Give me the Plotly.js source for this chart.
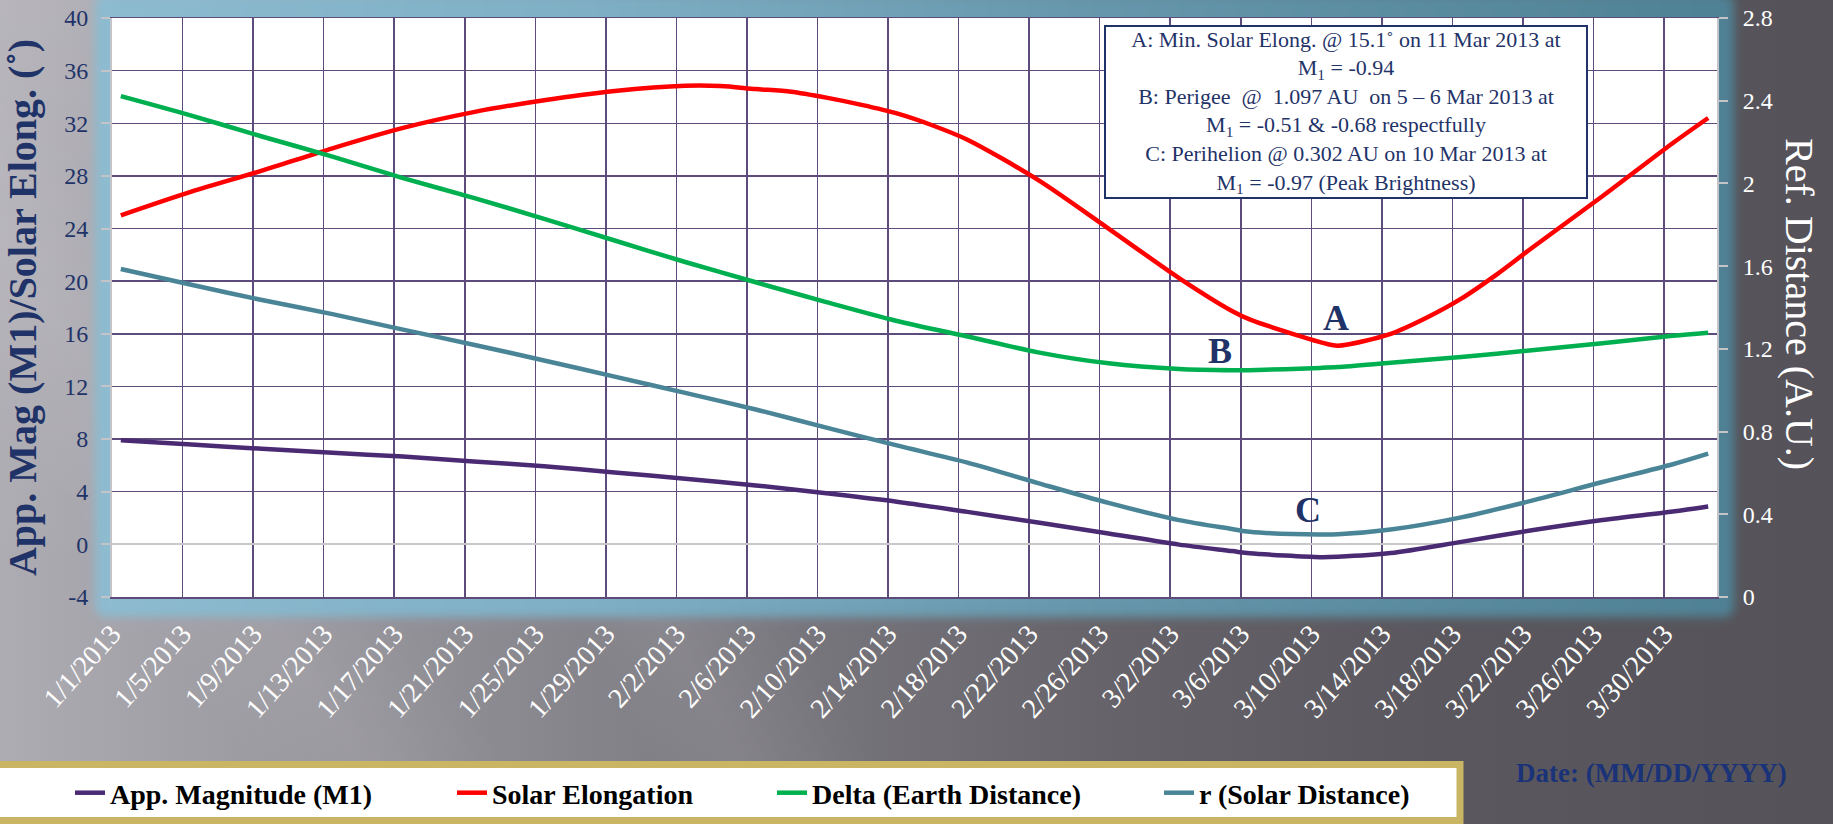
<!DOCTYPE html>
<html>
<head>
<meta charset="utf-8">
<script src="https://cdn.plot.ly/plotly-3.0.1.min.js"></script>
<style>
  html, body { margin: 0; padding: 0; width: 1833px; height: 824px; overflow: hidden; }
  body {
    position: relative;
    background:
      linear-gradient(62deg, rgba(255,255,255,0) 30%, rgba(255,255,255,0.07) 34%, rgba(255,255,255,0) 40%),
      linear-gradient(55deg, rgba(255,255,255,0) 12%, rgba(255,255,255,0.06) 17%, rgba(255,255,255,0) 23%),
      radial-gradient(ellipse 45% 70% at 0% 0%, rgba(255,255,255,0.12), rgba(255,255,255,0) 100%),
      linear-gradient(90deg, #aeacb3 0%, #98969d 18%, #7c7a81 40%, #66646a 60%, #5a585e 78%, #555359 100%);
  }
  #glow {
    position: absolute;
    border-radius: 10px;
    background: linear-gradient(90deg, #8dbbd0 0%, #7eafc5 30%, #6697ac 60%, #4f8194 100%);
    filter: blur(5px);
  }
  #chart { position: absolute; left: 0; top: 0; width: 1833px; height: 824px; }
</style>
</head>
<body>
<div id="glow"></div>
<div id="chart"></div>
<script>
// Comet ephemeris, Jan - Apr 2013 (daily values sampled on the dates below)
const dates = [
  '2013-01-01','2013-01-05','2013-01-09','2013-01-13','2013-01-17','2013-01-21',
  '2013-01-25','2013-01-29','2013-02-02','2013-02-06','2013-02-10','2013-02-14',
  '2013-02-18','2013-02-22','2013-02-26','2013-03-02','2013-03-05','2013-03-06',
  '2013-03-10','2013-03-11','2013-03-14','2013-03-18','2013-03-22','2013-03-26',
  '2013-03-30','2013-04-01'
];

// Apparent magnitude M1
const magnitude = [
  7.92, 7.58, 7.26, 6.96, 6.67, 6.30,
  5.94, 5.46, 4.99, 4.48, 3.88, 3.24,
  2.47, 1.66, 0.83, -0.02, -0.51, -0.68,
  -0.97, -0.94, -0.66, 0.19, 1.07, 1.85,
  2.50, 2.88
];

// Earth distance (Delta, AU)
const delta = [
  2.422, 2.328, 2.227, 2.130, 2.026, 1.930,
  1.829, 1.724, 1.620, 1.522, 1.426, 1.335,
  1.260, 1.183, 1.130, 1.103, 1.097, 1.097,
  1.108, 1.112, 1.133, 1.161, 1.193, 1.227,
  1.263, 1.278
];

// Solar distance (r, AU)
const solarDist = [
  1.586, 1.510, 1.436, 1.368, 1.293, 1.220,
  1.144, 1.066, 0.987, 0.907, 0.819, 0.733,
  0.650, 0.551, 0.455, 0.372, 0.329, 0.315,
  0.302, 0.303, 0.326, 0.385, 0.466, 0.556,
  0.642, 0.693
];

// Solar elongation (degrees) has its own sampling
const elongDates = [
  '2013-01-01','2013-01-05','2013-01-09','2013-01-13','2013-01-17','2013-01-21',
  '2013-01-25','2013-01-29','2013-02-02','2013-02-04','2013-02-06','2013-02-08',
  '2013-02-10','2013-02-12','2013-02-14','2013-02-16','2013-02-18','2013-02-22',
  '2013-02-26','2013-03-02','2013-03-05','2013-03-06','2013-03-10','2013-03-11',
  '2013-03-14','2013-03-16','2013-03-18','2013-03-20','2013-03-22','2013-03-26',
  '2013-03-30','2013-04-01'
];
const elongation = [
  25.0, 26.8, 28.4, 30.1, 31.65, 32.85,
  33.75, 34.45, 34.85, 34.83, 34.6, 34.4,
  33.95, 33.4, 32.75, 31.85, 30.75, 27.7,
  24.0, 20.24, 17.74, 17.1, 15.37, 15.1,
  16.0, 17.2, 18.67, 20.5, 22.52, 26.45,
  30.5, 32.4
];

// Left axis tick labels (plain hyphen for negatives)
const leftTickVals = [-4, 0, 4, 8, 12, 16, 20, 24, 28, 32, 36, 40];
const leftTickText = ['-4', '0', '4', '8', '12', '16', '20', '24', '28', '32', '36', '40'];

const seriesNames = ['App. Magnitude (M1)', 'Solar Elongation', 'Delta (Earth Distance)', 'r (Solar Distance)'];
const seriesColors = ['#4b2a74', '#ff0000', '#00b050', '#4a8597'];
const legendIds = ['legend', 'legend2', 'legend3', 'legend4'];

const NAVY = '#1f3368';
const GRID = '#5d4b7c';
const AXIS = '#c4c4c8';
const SERIF = 'Liberation Serif, Times New Roman, serif';
const DAY = 86400000;

const W = 1833, H = 824;
const M = { l: 112, r: 116, t: 18, b: 227 };
const plotW = W - M.l - M.r, plotH = H - M.t - M.b;

// paper coordinate helpers for decorations placed in the margins
const px = v => (v - M.l) / plotW;
const py = v => (M.t + plotH - v) / plotH;

function series(i, x, y, axis) {
  return {
    type: 'scatter', mode: 'lines', name: seriesNames[i], x: x, y: y, yaxis: axis,
    legend: legendIds[i],
    xperiod: DAY, xperiodalignment: 'middle',
    line: { color: seriesColors[i], width: 4.5, shape: 'spline', smoothing: 0.8 },
    hoverinfo: 'skip'
  };
}

const traces = [
  series(0, dates, magnitude, 'y'),
  series(1, elongDates, elongation, 'y'),
  series(2, dates, delta, 'y2'),
  series(3, dates, solarDist, 'y2')
];

const noteText =
  'A: Min. Solar Elong. @ 15.1˚ on 11 Mar 2013 at<br>' +
  'M<sub>1</sub> = -0.94<br>' +
  'B: Perigee \u00a0@ \u00a01.097 AU \u00a0on 5 – 6 Mar 2013 at<br>' +
  'M<sub>1</sub> = -0.51 &amp; -0.68 respectfully<br>' +
  'C: Perihelion @ 0.302 AU on 10 Mar 2013 at<br>' +
  'M<sub>1</sub> = -0.97 (Peak Brightness)';

const pointLabel = (t, x, y) => ({
  text: '<b>' + t + '</b>', x: x, y: y, xref: 'x', yref: 'y', showarrow: false,
  font: { family: SERIF, size: 36, color: NAVY }
});

// one legend box per entry, spaced along the bottom band
const legendX = [70, 452, 772, 1159];
function legendAt(k) {
  return {
    orientation: 'h', x: px(legendX[k]), xanchor: 'left', y: py(793), yanchor: 'middle',
    bgcolor: 'rgba(0,0,0,0)', borderwidth: 0,
    font: { family: SERIF, size: 28, color: '#000000', weight: 'bold' }
  };
}

const layout = {
  width: W, height: H,
  margin: { l: M.l, r: M.r, t: M.t, b: M.b, pad: 0, autoexpand: false },
  paper_bgcolor: 'rgba(0,0,0,0)',
  plot_bgcolor: '#ffffff',
  font: { family: SERIF },
  showlegend: true,
  legend: legendAt(0),
  legend2: legendAt(1),
  legend3: legendAt(2),
  legend4: legendAt(3),
  xaxis: {
    type: 'date', range: ['2013-01-01', '2013-04-02'],
    tick0: '2013-01-01', dtick: 4 * DAY, tickformat: '%-m/%-d/%Y',
    tickangle: -48, tickfont: { family: SERIF, size: 28, color: '#ffffff' },
    ticks: '', ticklabelstandoff: 8,
    showgrid: true, gridcolor: GRID, gridwidth: 1.5,
    showline: true, linecolor: GRID, linewidth: 1.5, mirror: true,
    zeroline: false, fixedrange: true
  },
  yaxis: {
    range: [-4, 40], tickmode: 'array', tickvals: leftTickVals, ticktext: leftTickText,
    tickfont: { family: SERIF, size: 24, color: NAVY },
    ticks: 'outside', ticklen: 9, tickwidth: 2, tickcolor: AXIS, ticklabelstandoff: 8,
    showline: true, linecolor: AXIS, linewidth: 2,
    showgrid: true, gridcolor: GRID, gridwidth: 1.5,
    zeroline: true, zerolinecolor: '#c8c8c8', zerolinewidth: 2,
    title: { text: 'App. Mag (M1)/Solar Elong. (˚)', standoff: 30,
             font: { family: SERIF, size: 40, color: NAVY, weight: 'bold' } },
    fixedrange: true
  },
  yaxis2: {
    overlaying: 'y', side: 'right', range: [0, 2.8], tick0: 0, dtick: 0.4,
    tickfont: { family: SERIF, size: 24, color: '#ffffff' },
    ticks: 'outside', ticklen: 9, tickwidth: 2, tickcolor: AXIS, ticklabelstandoff: 10,
    showline: true, linecolor: AXIS, linewidth: 2,
    showgrid: false, zeroline: false, fixedrange: true
  },
  shapes: [{
    type: 'rect', xref: 'paper', yref: 'paper', layer: 'below',
    x0: px(-20), x1: px(1460), y0: py(820.5), y1: py(764.5),
    fillcolor: '#ffffff', line: { color: '#cab565', width: 7 }
  }],
  annotations: [
    {
      text: noteText, xref: 'paper', yref: 'paper', x: px(1346), y: py(112),
      xanchor: 'center', yanchor: 'middle', showarrow: false, align: 'center',
      width: 476, height: 166, valign: 'middle',
      borderpad: 2, borderwidth: 2, bordercolor: NAVY, bgcolor: '#ffffff',
      font: { family: SERIF, size: 22, color: NAVY }
    },
    pointLabel('A', '2013-03-11 09:00', 17.2),
    pointLabel('B', '2013-03-04 20:00', 14.7),
    pointLabel('C', '2013-03-09 19:00', 2.6),
    {
      text: 'Ref. Distance (A.U.)', xref: 'paper', yref: 'paper', x: px(1800), y: py(304),
      xanchor: 'center', yanchor: 'middle', textangle: 90, showarrow: false,
      font: { family: SERIF, size: 40, color: '#ffffff' }
    },
    {
      text: '<b>Date: (MM/DD/YYYY)</b>', xref: 'paper', yref: 'paper', x: px(1651), y: py(773),
      xanchor: 'center', yanchor: 'middle', showarrow: false,
      font: { family: SERIF, size: 27, color: '#1a3278' }
    }
  ]
};

// soft glow frame behind the plotting area
const glow = document.getElementById('glow');
glow.style.left = (M.l - 17) + 'px';
glow.style.top = '-6px';
glow.style.width = (plotW + 34) + 'px';
glow.style.height = (M.t + plotH + 26) + 'px';

Plotly.newPlot('chart', traces, layout, { staticPlot: true, displayModeBar: false });
</script>
</body>
</html>
